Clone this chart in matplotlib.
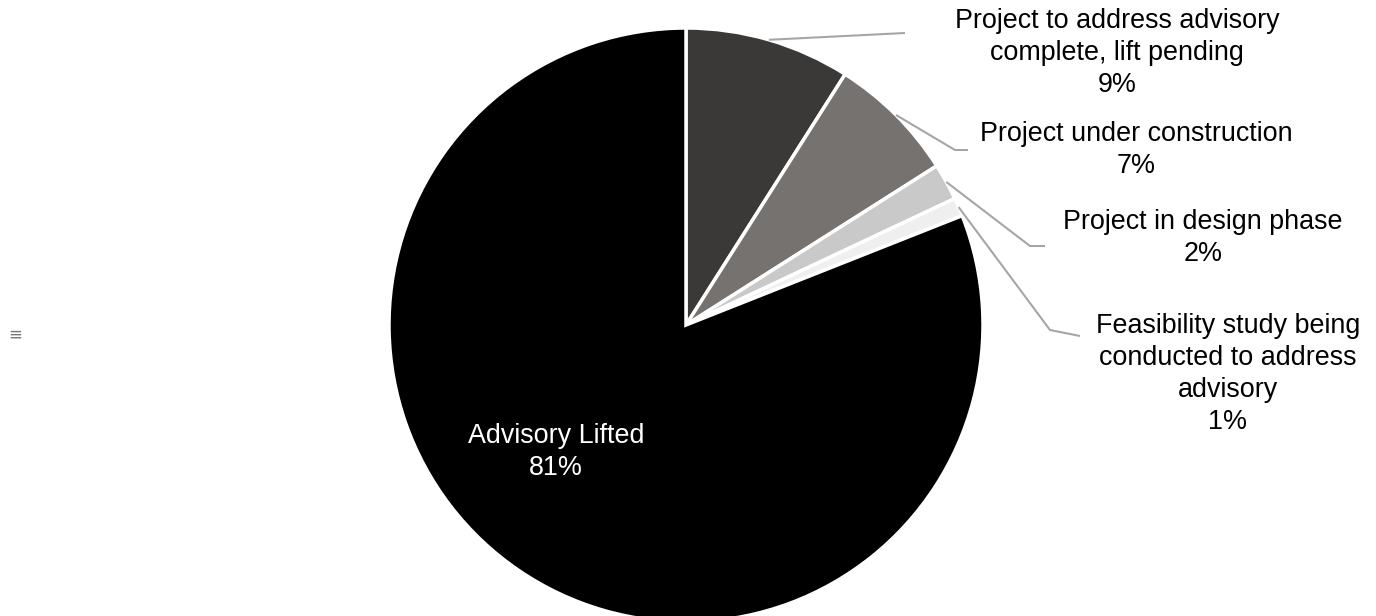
import numpy as np
import matplotlib
matplotlib.use("Agg")
import matplotlib.pyplot as plt

# Status of advisories
categories = [
    "Project to address advisory\ncomplete, lift pending",
    "Project under construction",
    "Project in design phase",
    "Feasibility study being\nconducted to address\nadvisory",
    "Advisory Lifted",
]
shares = [9, 7, 2, 1, 81]
colors = ["#3b3937", "#767270", "#c9c9c9", "#efefef", "#000000"]

W, H = 1376, 616
fig = plt.figure(figsize=(W / 100, H / 100), dpi=100)
ax = fig.add_axes([0, 0, 1, 1])

cx, cy, R = 686, H - 325, 297
wedges, _ = ax.pie(
    shares, colors=colors, startangle=90, counterclock=False,
    center=(cx, cy), radius=R, frame=True,
    wedgeprops=dict(edgecolor="white", linewidth=2.5),
)
ax.set_xlim(0, W)
ax.set_ylim(0, H)
ax.set_aspect("equal")
ax.axis("off")

font = dict(family=["Liberation Sans", "DejaVu Sans"], fontsize=19.4)

# Outside labels: (elbow, end of leader, text centre) in pixel layout
layout = [
    ((905, 33), (905, 33), (1117, 53)),
    ((955, 150), (968, 150), (1136, 150)),
    ((1030, 246), (1045, 246), (1203, 238)),
    ((1050, 330), (1080, 336), (1228, 374)),
]
for i, (elbow, end, txt) in enumerate(layout):
    w = wedges[i]
    ang = np.deg2rad((w.theta1 + w.theta2) / 2)
    x0 = cx + R * np.cos(ang)
    y0 = cy + R * np.sin(ang)
    xs = [x0, elbow[0], end[0]]
    ys = [y0, H - elbow[1], H - end[1]]
    ax.plot(xs, ys, color="#a6a6a6", lw=1.5, solid_capstyle="butt")
    ax.text(txt[0], H - txt[1], f"{categories[i]}\n{shares[i]}%",
            ha="center", va="center", color="black", linespacing=1.3, **font)

# Inside label for the largest wedge
ax.text(556, H - 452, f"{categories[4]}\n{shares[4]}%", ha="center", va="center",
        color="white", linespacing=1.3, **font)

ax.text(15, H - 335, "≡", ha="center", va="center", color="#777777",
        fontsize=12, family="DejaVu Sans")

fig.savefig("out.png", dpi=100)
